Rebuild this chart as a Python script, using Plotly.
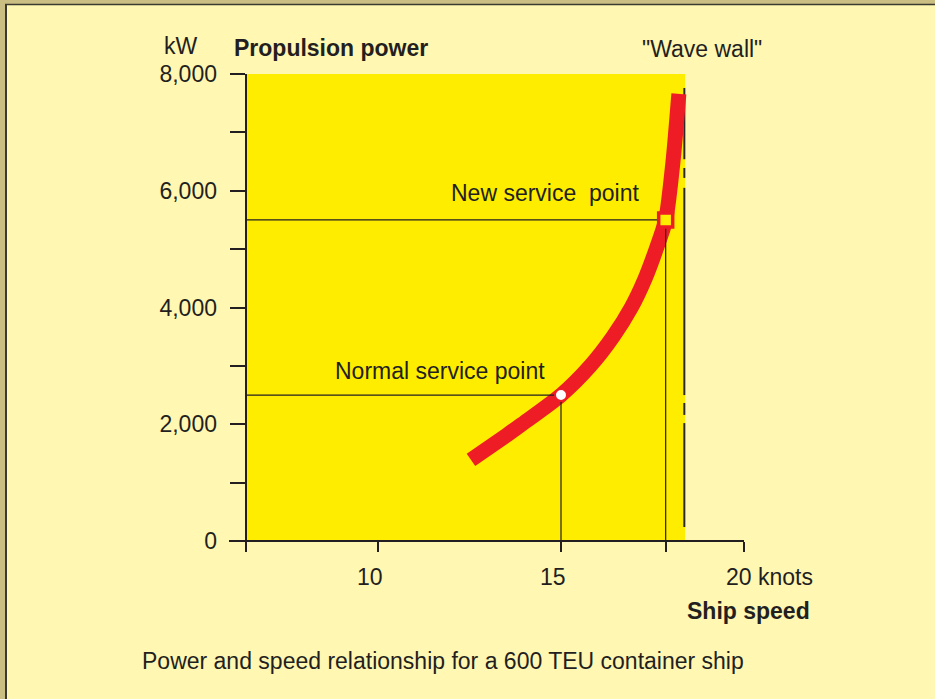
import plotly.graph_objects as go

# ---- data ----
curve_speed = [12.54, 13.52, 13.93, 15.0, 15.8, 16.42, 16.92, 17.3, 17.6, 17.86, 18.06, 18.22]
curve_power = [1390, 1815, 2000, 2500, 3000, 3500, 4000, 4500, 5000, 5500, 6500, 7660]

normal_point = (15.0, 2500)
new_point = (17.86, 5500)
axis_start_speed = 6.383
wave_wall_speed = 18.37
yellow_end_speed = 18.39
wave_wall_segments = [(7760, 6540), (6390, 6220), (6050, 2500), (2365, 2160), (2020, 240)]

y_tickvals = [0, 1000, 2000, 3000, 4000, 5000, 6000, 7000, 8000]
y_ticktext = ["0", "", "2,000", "", "4,000", "", "6,000", "", "8,000"]
x_tick_labels = [(10, "10"), (15, "15")]

# ---- colours / fonts ----
CREAM = "#FFF7B2"
YELLOW = "#FFED00"
RED = "#EE1D25"
INK = "#231F20"
FONT = "Liberation Sans, Arial, sans-serif"

# plot area in pixels
L, R, T, B = 229, 744, 74, 551
W, H = 935, 699


def px2x(px):
    return (px - L) / (R - L)


def py2y(py):
    return (B - py) / (B - T)


fig = go.Figure()

# yellow field
fig.add_shape(type="rect", xref="x", yref="y", x0=axis_start_speed, x1=yellow_end_speed,
              y0=0, y1=8000, fillcolor=YELLOW, line_width=0, layer="below")

# wave wall line (with small gaps)
ww_x, ww_y = [], []
for a, b in wave_wall_segments:
    ww_x += [wave_wall_speed, wave_wall_speed, None]
    ww_y += [a, b, None]
fig.add_trace(go.Scatter(x=ww_x, y=ww_y, mode="lines",
                         line=dict(color="#2a2a2a", width=2), hoverinfo="skip"))

# red curve
fig.add_trace(go.Scatter(x=curve_speed, y=curve_power, mode="lines",
                         line=dict(color=RED, width=15, shape="spline", smoothing=0.7),
                         hoverinfo="skip"))

# reference lines for service points
fig.add_trace(go.Scatter(x=[axis_start_speed, normal_point[0], normal_point[0]],
                         y=[normal_point[1], normal_point[1], -171], mode="lines",
                         line=dict(color=INK, width=1.2), hoverinfo="skip"))
fig.add_trace(go.Scatter(x=[axis_start_speed, new_point[0], new_point[0]],
                         y=[new_point[1], new_point[1], -171], mode="lines",
                         line=dict(color=INK, width=1.2), hoverinfo="skip"))

# markers
fig.add_trace(go.Scatter(x=[normal_point[0]], y=[normal_point[1]], mode="markers",
                         marker=dict(symbol="circle", size=12, color="white",
                                     line=dict(color=RED, width=2)), hoverinfo="skip"))
fig.add_trace(go.Scatter(x=[new_point[0]], y=[new_point[1]], mode="markers",
                         marker=dict(symbol="square", size=14, color=YELLOW,
                                     line=dict(color=RED, width=3.5)), hoverinfo="skip"))

annotations = []


def ann(text, px, py, anchor="left", bold=False, size=23):
    annotations.append(dict(
        text=f"<b>{text}</b>" if bold else text, xref="paper", yref="paper",
        x=px2x(px), y=py2y(py), xanchor=anchor, yanchor="middle", showarrow=False,
        font=dict(family=FONT, size=size, color=INK)))


ann("kW", 181, 46, anchor="center")
ann("Propulsion power", 232, 48, bold=True)
ann("\"Wave wall\"", 640, 49)
ann("New service\u00a0 point", 449, 193)
ann("Normal service point", 333, 371)
for val, lab in x_tick_labels:
    annotations.append(dict(text=lab, xref="x", yref="paper", x=val, y=py2y(577),
                            xanchor="center", yanchor="middle", xshift=-8, showarrow=False,
                            font=dict(family=FONT, size=23, color=INK)))
annotations.append(dict(text="20 knots", xref="x", yref="paper", x=20, y=py2y(577),
                        xanchor="left", yanchor="middle", xshift=-20, showarrow=False,
                        font=dict(family=FONT, size=23, color=INK)))
ann("Ship speed", 685, 611, bold=True)
ann("Power and speed relationship for a 600 TEU container ship", 140, 661)

# outer frame (top / left edges)
shapes = [
    dict(type="rect", xref="paper", yref="paper", x0=px2x(-5), x1=px2x(940),
         y0=py2y(4), y1=py2y(-5), fillcolor="#CBBE82", line_width=0, layer="above"),
    dict(type="rect", xref="paper", yref="paper", x0=px2x(-5), x1=px2x(5),
         y0=py2y(704), y1=py2y(-5), fillcolor="#CBBE82", line_width=0, layer="above"),
    dict(type="line", xref="paper", yref="paper", x0=px2x(5), x1=px2x(940),
         y0=py2y(4.5), y1=py2y(4.5), line=dict(color="#3b3a30", width=1.5), layer="above"),
    dict(type="line", xref="paper", yref="paper", x0=px2x(6), x1=px2x(6),
         y0=py2y(4), y1=py2y(704), line=dict(color="#3b3a30", width=2), layer="above"),
]
for s in shapes:
    fig.add_shape(**s)

fig.update_layout(
    width=W, height=H,
    margin=dict(l=L, r=W - R, t=T, b=H - B, pad=0),
    paper_bgcolor=CREAM, plot_bgcolor="rgba(0,0,0,0)",
    showlegend=False,
    annotations=annotations,
    font=dict(family=FONT, size=23, color=INK),
    xaxis=dict(range=[10 - (378 - L) / 36.6, 10 + (R - 378) / 36.6],
               anchor="free", position=py2y(541),
               showgrid=False, zeroline=False, showline=True, linecolor=INK, linewidth=2,
               ticks="outside", ticklen=10, tickwidth=2, tickcolor=INK,
               tickvals=[axis_start_speed, 10, 15, new_point[0], 20],
               ticktext=["", "", "", "", ""]),
    yaxis=dict(range=[-171, 8000], anchor="free", position=px2x(245.6),
               showgrid=False, zeroline=False, showline=True, linecolor=INK, linewidth=2,
               ticks="outside", ticklen=15, tickwidth=2, tickcolor=INK,
               tickvals=y_tickvals, ticktext=y_ticktext, ticklabelstandoff=8,
               tickfont=dict(family=FONT, size=23, color=INK)),
)

fig.write_html(
    "out.html",
    config={"displayModeBar": False},
    post_script="document.body.style.margin='0';document.body.style.overflow='hidden';",
)
